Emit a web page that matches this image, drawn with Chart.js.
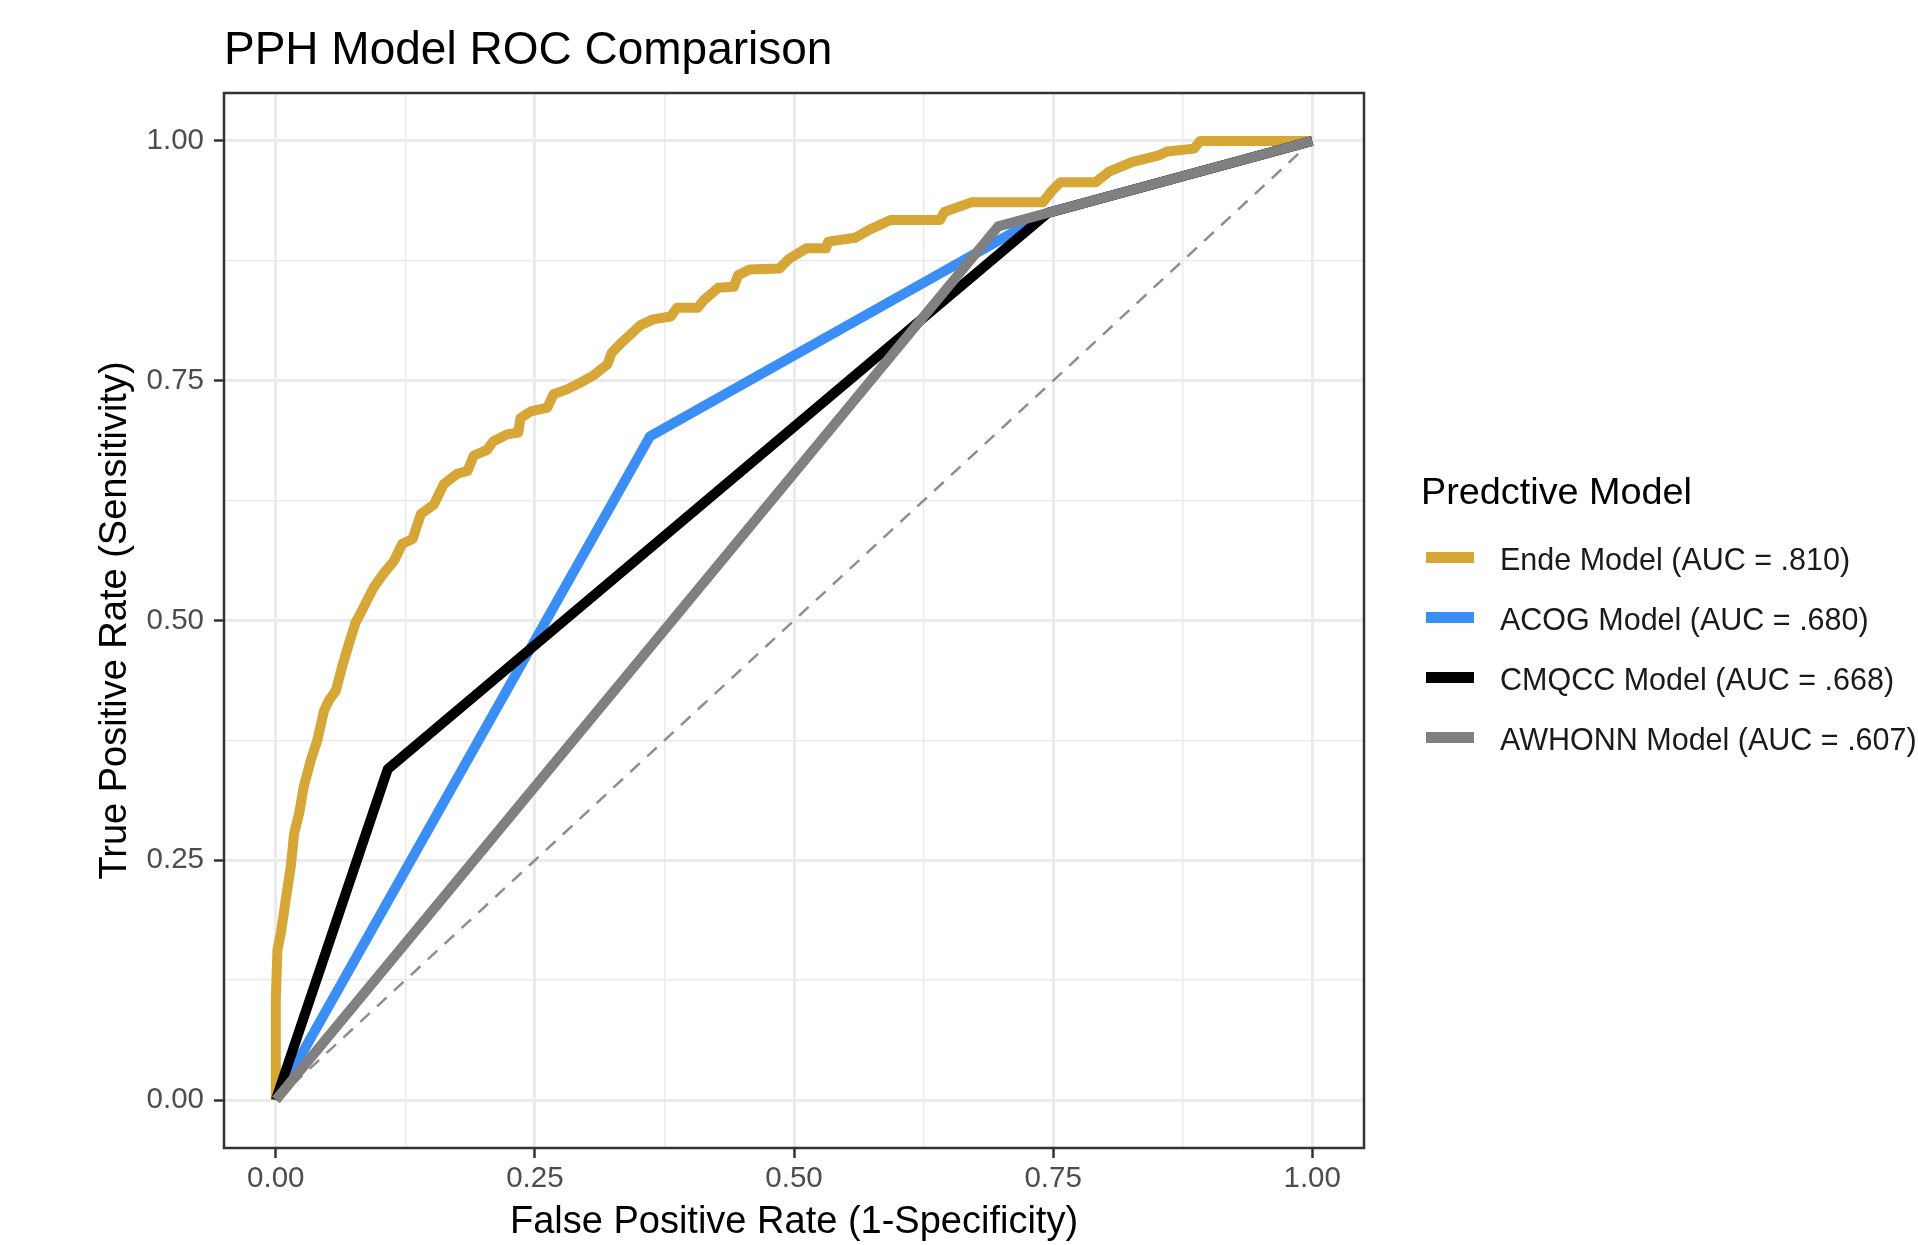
<!DOCTYPE html>
<html>
<head>
<meta charset="utf-8">
<title>PPH Model ROC Comparison</title>
<script src="https://cdn.jsdelivr.net/npm/chart.js@4.4.1/dist/chart.umd.min.js"></script>
<style>
  body { margin: 0; background: #fff; font-family: "Liberation Sans", Arial, Helvetica, sans-serif; }
  #wrap { position: relative; width: 1918px; height: 1245px; }
  canvas { position: absolute; left: 0; top: 0; }
  .plot-title { position: absolute; left: 224px; top: 25px; font-size: 46px; line-height: 46px; color: #000; white-space: nowrap; }
  .leg-title { position: absolute; left: 1421px; top: 473px; font-size: 37.8px; line-height: 37.8px; color: #000; white-space: nowrap; }
  .leg-key { position: absolute; left: 1426px; width: 48px; height: 11px; }
  .leg-label { position: absolute; left: 1500px; font-size: 30.5px; line-height: 30.5px; color: #1a1a1a; white-space: nowrap; }
</style>
</head>
<body>
<div id="wrap">
  <canvas id="roc" width="1918" height="1245"></canvas>
  <div class="plot-title">PPH Model ROC Comparison</div>
  <div class="leg-title">Predctive Model</div>
  <div id="legend"></div>
</div>
<script>
// ROC points (false positive rate, true positive rate)
const endeFpr = [0, 0, 0.0016, 0.005, 0.0096, 0.0145, 0.0177, 0.0225, 0.027, 0.0337, 0.040, 0.0465, 0.0514, 0.058,
  0.064, 0.0706, 0.077, 0.082, 0.088, 0.0947, 0.104, 0.114, 0.122, 0.132, 0.140, 0.1525, 0.162, 0.175, 0.185, 0.191,
  0.204, 0.210, 0.223, 0.234, 0.236, 0.246, 0.262, 0.268, 0.281, 0.294, 0.307, 0.320, 0.324, 0.332, 0.342, 0.352,
  0.364, 0.381, 0.387, 0.407, 0.413, 0.427, 0.442, 0.446, 0.457, 0.486, 0.495, 0.512, 0.531, 0.533, 0.559, 0.572,
  0.593, 0.641, 0.645, 0.671, 0.740, 0.748, 0.757, 0.791, 0.804, 0.826, 0.852, 0.860, 0.886, 0.892, 1.0];
const endeTpr = [0, 0.105, 0.157, 0.175, 0.209, 0.244, 0.278, 0.299, 0.327, 0.354, 0.375, 0.406, 0.417, 0.427,
  0.452, 0.476, 0.498, 0.508, 0.521, 0.535, 0.549, 0.562, 0.580, 0.585, 0.611, 0.621, 0.642, 0.653, 0.656, 0.672,
  0.678, 0.687, 0.694, 0.696, 0.711, 0.718, 0.722, 0.736, 0.741, 0.748, 0.756, 0.767, 0.779, 0.788, 0.798, 0.808,
  0.814, 0.817, 0.826, 0.826, 0.834, 0.847, 0.848, 0.860, 0.866, 0.867, 0.877, 0.888, 0.888, 0.895, 0.899, 0.907,
  0.9175, 0.9175, 0.926, 0.936, 0.936, 0.947, 0.957, 0.957, 0.968, 0.978, 0.985, 0.989, 0.992, 1.0, 1.0];

const acogFpr = [0, 0.361, 0.745, 1];
const acogTpr = [0, 0.692, 0.925, 1];

const cmqccFpr = [0, 0.108, 0.745, 1];
const cmqccTpr = [0, 0.345, 0.925, 1];

const awhonnFpr = [0, 0.697, 1];
const awhonnTpr = [0, 0.911, 1];

const chanceFpr = [0, 1];
const chanceTpr = [0, 1];

const modelNames = ['Ende Model (AUC = .810)', 'ACOG Model (AUC = .680)', 'CMQCC Model (AUC = .668)', 'AWHONN Model (AUC = .607)'];
const modelColors = ['#D6A636', '#3A8EF6', '#000000', '#808080'];

const tickValues = [0, 0.25, 0.5, 0.75, 1];
const tickLabels = ['0.00', '0.25', '0.50', '0.75', '1.00'];
const minorValues = [0.125, 0.375, 0.625, 0.875];

function points(xs, ys) {
  return xs.map((x, i) => ({ x: x, y: ys[i] }));
}

const gridValues = tickValues.concat(minorValues).sort((a, b) => a - b);
const isMajor = v => tickValues.indexOf(v) >= 0;

function axis(title, titlePad, fit, tickPad) {
  return {
    type: 'linear',
    min: -0.05,
    max: 1.05,
    afterBuildTicks: s => { s.ticks = gridValues.map(v => ({ value: v })); },
    afterFit: fit,
    border: { display: false },
    grid: {
      color: '#EBEBEB',
      lineWidth: c => isMajor(c.tick.value) ? 3 : 1.5,
      tickColor: c => isMajor(c.tick.value) ? '#333333' : 'rgba(0,0,0,0)',
      tickWidth: 2.5,
      tickLength: 10
    },
    ticks: {
      autoSkip: false,
      maxRotation: 0,
      minRotation: 0,
      padding: tickPad,
      color: '#4D4D4D',
      font: { family: '"Liberation Sans", Arial, sans-serif', size: 29.5 },
      callback: v => { const i = tickValues.indexOf(v); return i >= 0 ? tickLabels[i] : ''; }
    },
    title: {
      display: true,
      text: title,
      color: '#000',
      font: { family: '"Liberation Sans", Arial, sans-serif', size: 38 },
      padding: titlePad
    }
  };
}

const series = [
  { fpr: endeFpr, tpr: endeTpr, order: 4 },
  { fpr: acogFpr, tpr: acogTpr, order: 3 },
  { fpr: cmqccFpr, tpr: cmqccTpr, order: 2 },
  { fpr: awhonnFpr, tpr: awhonnTpr, order: 1 }
];

const datasets = series.map((s, i) => ({
  label: modelNames[i],
  data: points(s.fpr, s.tpr),
  borderColor: modelColors[i],
  borderWidth: 10,
  borderJoinStyle: 'round',
  pointRadius: 0,
  tension: 0,
  fill: false,
  order: s.order
}));

datasets.push({
  label: 'chance',
  data: points(chanceFpr, chanceTpr),
  borderColor: '#8E8E8E',
  borderWidth: 2.5,
  borderDash: [13, 10],
  pointRadius: 0,
  fill: false,
  order: 5
});

const panelBorder = {
  id: 'panelBorder',
  afterDraw(chart) {
    const { ctx, chartArea: a } = chart;
    ctx.save();
    ctx.strokeStyle = '#333333';
    ctx.lineWidth = 2.5;
    ctx.strokeRect(a.left, a.top, a.right - a.left, a.bottom - a.top);
    ctx.restore();
  }
};

new Chart(document.getElementById('roc'), {
  type: 'line',
  data: { datasets: datasets },
  options: {
    responsive: false,
    devicePixelRatio: 1,
    animation: false,
    layout: { padding: { left: 0, top: 93, right: 554, bottom: 0 } },
    plugins: { legend: { display: false }, tooltip: { enabled: false } },
    scales: {
      x: axis('False Positive Rate (1-Specificity)', { top: 0, bottom: 0 }, s => { s.height = 97; }, 3),
      y: axis('True Positive Rate (Sensitivity)', { top: 93, bottom: 0 }, s => { s.width = 224; }, 10)
    }
  },
  plugins: [panelBorder]
});

// legend
const rowCenters = [557, 617, 677, 737];
const legend = document.getElementById('legend');
modelNames.forEach((name, i) => {
  const key = document.createElement('div');
  key.className = 'leg-key';
  key.style.top = (rowCenters[i] - 5.5) + 'px';
  key.style.background = modelColors[i];
  legend.appendChild(key);
  const label = document.createElement('div');
  label.className = 'leg-label';
  label.style.top = (rowCenters[i] - 13) + 'px';
  label.textContent = name;
  legend.appendChild(label);
});
</script>
</body>
</html>
